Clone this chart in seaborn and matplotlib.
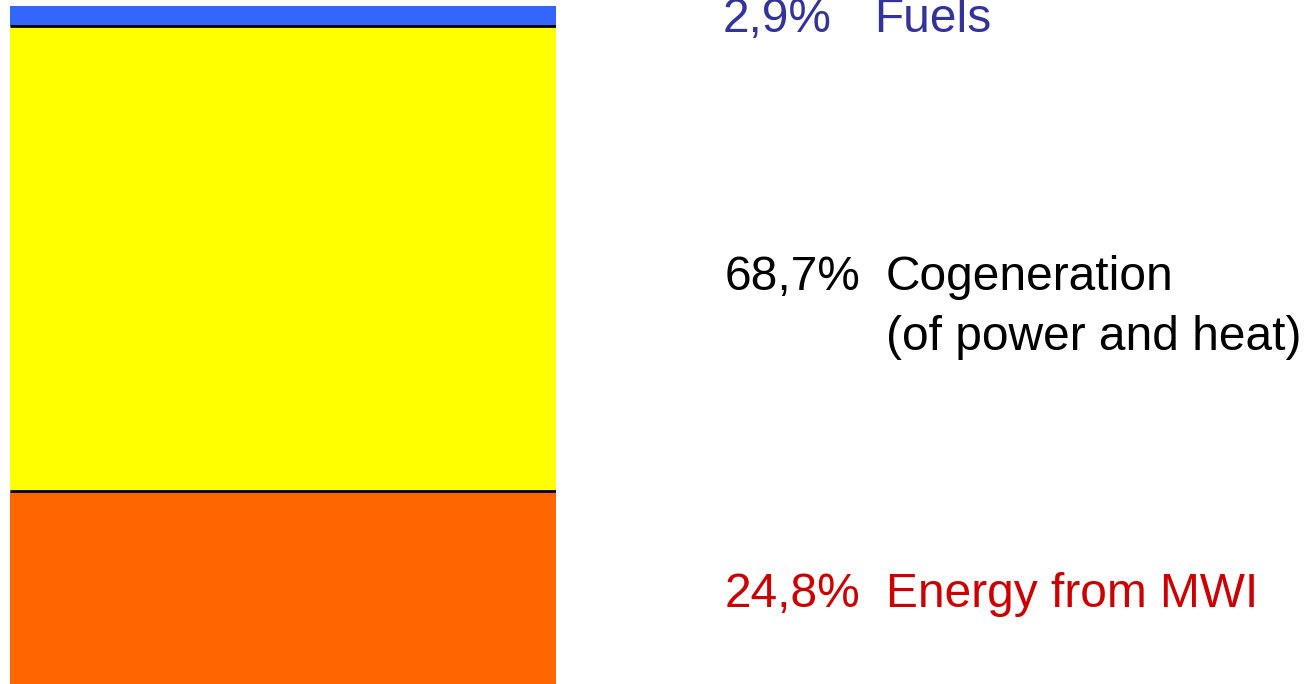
import matplotlib
matplotlib.use('Agg')
import matplotlib.pyplot as plt
import seaborn as sns

# shares in percent, listed bottom to top
labels = ['Energy from MWI', 'Cogeneration\n(of power and heat)', 'Fuels']
shares = [24.8, 68.7, 2.9]
pct_text = ['24,8%', '68,7%', '2,9%']
bar_colors = ['#FF6600', '#FFFF00', '#3366FF']
text_colors = ['#CC0000', '#000000', '#333399']

sns.set_theme(style='white')
plt.rcParams['font.family'] = ['Liberation Sans', 'DejaVu Sans']

# bar is drawn as a 100% column stacked from the top down
tops = [100 - sum(shares[i + 1:]) for i in range(len(shares))]

fig = plt.figure(figsize=(13.11, 6.84), dpi=100)
ax = fig.add_axes([10 / 1311, 0, 546 / 1311, 678 / 684])

# draw tallest first so the shorter ones cover it
for i in reversed(range(len(shares))):
    sns.barplot(x=['all'], y=[tops[i]], color=bar_colors[i], width=1.0,
                saturation=1, linewidth=0, ax=ax)

ax.set_xlim(-0.5, 0.5)
ax.set_ylim(0, 100)
# boundaries between segments
ax.hlines(tops[:-1], -0.5, 0.5, color='black', linewidth=2)
ax.set_axis_off()

fs = 34.5
baselines = [0.1126, 0.576, 0.9532]
pct_x = [725 / 1311, 725 / 1311, 723 / 1311]
label_x = [886 / 1311, 886 / 1311, 874 / 1311]
for i in range(len(shares)):
    fig.text(pct_x[i], baselines[i], pct_text[i], color=text_colors[i],
             fontsize=fs, va='baseline', ha='left')
    lines = labels[i].split('\n')
    fig.text(label_x[i], baselines[i], lines[0], color=text_colors[i],
             fontsize=fs, va='baseline', ha='left')
    if len(lines) > 1:
        fig.text(label_x[i], 0.4883, lines[1], color=text_colors[i],
                 fontsize=fs, va='baseline', ha='left')

fig.savefig('out.png', dpi=100)
